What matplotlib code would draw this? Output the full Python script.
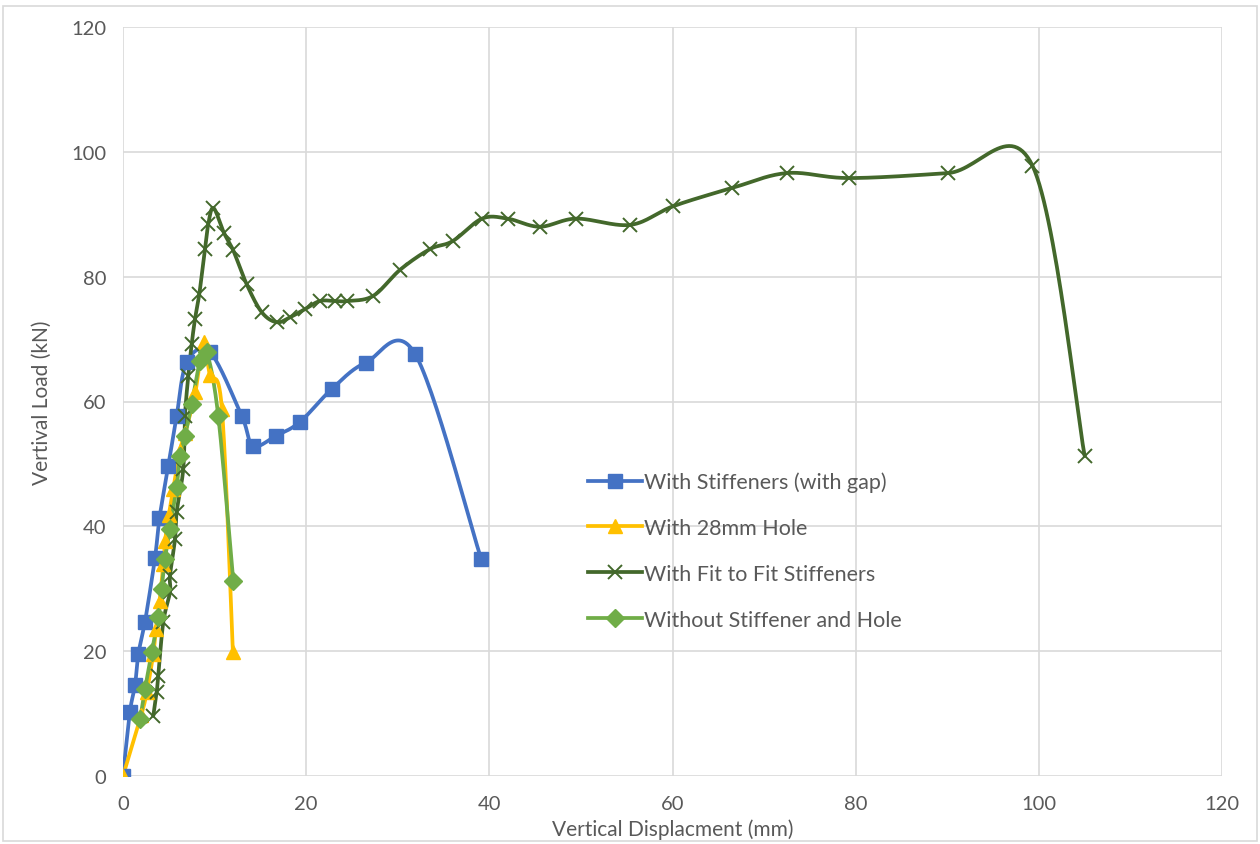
import numpy as np
import matplotlib
matplotlib.use("Agg")
import matplotlib.pyplot as plt
from matplotlib.patches import Rectangle
from matplotlib.lines import Line2D

# ---- data ----
gap_x = [0, 0.76, 1.31, 1.67, 2.40, 3.49, 3.98, 4.95, 5.86, 6.96, 9.5, 12.96, 14.2, 16.7, 19.3, 22.8, 26.5, 31.9, 39.1]
gap_y = [0, 10.3, 14.5, 19.5, 24.7, 34.9, 41.3, 49.7, 57.7, 66.3, 67.9, 57.7, 52.9, 54.5, 56.7, 62.0, 66.2, 67.6, 34.8]

hole_x = [0, 2.0, 2.6, 3.3, 3.6, 4.0, 4.4, 4.6, 5.0, 5.5, 6.2, 6.8, 7.9, 8.8, 9.5, 10.8, 12.0]
hole_y = [0, 9.8, 13.5, 19.5, 23.5, 28.0, 34.0, 37.7, 41.8, 46.0, 52.1, 55.0, 61.5, 69.6, 64.2, 58.8, 19.8]

fit_x = [3.31, 3.68, 3.85, 4.40, 5.13, 5.13, 5.68, 5.86, 6.58, 6.77, 7.13, 7.50, 7.86, 8.33, 8.95, 9.31, 9.88,
         11.03, 12.04, 13.5, 15.15, 16.78, 18.24, 19.87, 21.5, 23.15, 24.46, 27.3, 30.25, 33.5, 36.0, 39.2,
         42.0, 45.5, 49.5, 55.4, 60.1, 66.5, 72.5, 79.3, 90.1, 99.3, 105.0]
fit_y = [9.66, 13.46, 16.07, 24.67, 29.48, 32.09, 37.97, 42.29, 49.18, 57.72, 64.13, 69.2, 73.2, 77.2, 84.4, 88.4, 91.0,
         87.0, 84.2, 78.8, 74.3, 72.7, 73.5, 74.8, 76.1, 76.1, 76.1, 76.9, 81.1, 84.4, 85.7, 89.3,
         89.3, 88.0, 89.3, 88.3, 91.3, 94.2, 96.6, 95.8, 96.6, 97.8, 51.3]

plain_x = [1.86, 2.40, 3.13, 3.85, 4.22, 4.59, 5.13, 5.86, 6.22, 6.77, 7.50, 8.41, 9.14, 10.4, 12.04]
plain_y = [9.1, 13.9, 19.8, 25.4, 30.0, 34.8, 39.6, 46.3, 51.3, 54.5, 59.6, 66.5, 67.9, 57.7, 31.3]

labels = ["With Stiffeners (with gap)", "With 28mm Hole", "With Fit to Fit Stiffeners", "Without Stiffener and Hole"]
colors = ["#4472C4", "#FFC000", "#43682B", "#70AD47"]
markers = ["s", "^", "x", "D"]

x_ticks = [0, 20, 40, 60, 80, 100, 120]
y_ticks = [0, 20, 40, 60, 80, 100, 120]


def smooth(xs, ys, n=30):
    p = np.column_stack([xs, ys]).astype(float)
    if len(p) < 3:
        return p[:, 0], p[:, 1]
    ext = np.vstack([p[0], p, p[-1]])
    out = [p[0]]
    t = np.linspace(0, 1, n)[1:]
    for i in range(1, len(ext) - 2):
        p0, p1, p2, p3 = ext[i - 1], ext[i], ext[i + 1], ext[i + 2]
        c1 = p1 + (p2 - p0) / 6.0
        c2 = p2 - (p3 - p1) / 6.0
        for tt in t:
            b = ((1 - tt) ** 3) * p1 + 3 * ((1 - tt) ** 2) * tt * c1 + 3 * (1 - tt) * tt ** 2 * c2 + tt ** 3 * p2
            out.append(b)
    out = np.array(out)
    return out[:, 0], out[:, 1]


plt.rcParams['font.family'] = ['Lato', 'DejaVu Sans']
fig = plt.figure(figsize=(12.6, 8.45), dpi=100)
ax = fig.add_axes([123 / 1260, 1 - 777 / 845, (1222 - 123) / 1260, (777 - 28) / 845])

series = [(gap_x, gap_y), (hole_x, hole_y), (fit_x, fit_y), (plain_x, plain_y)]
handles = []
for (xs, ys), lab, c, m in zip(series, labels, colors, markers):
    sx, sy = smooth(xs, ys)
    ax.plot(sx, sy, color=c, lw=2.7, solid_capstyle='round', zorder=3)
    if m == "x":
        ax.plot(xs, ys, ls='none', marker=m, ms=10.5, mec=c, mew=1.4, zorder=4)
        h = Line2D([], [], color=c, lw=2.7, marker=m, ms=10.5, mew=1.4)
    else:
        ms = 10.5 if m != "D" else 9
        ax.plot(xs, ys, ls='none', marker=m, ms=ms, mfc=c, mec=c, zorder=4)
        h = Line2D([], [], color=c, lw=2.7, marker=m, ms=ms, mfc=c, mec=c)
    handles.append(h)

ax.set_xlim(0, 120)
ax.set_ylim(0, 120)
ax.set_xticks(x_ticks)
ax.set_yticks(y_ticks)
ax.grid(True, color="#D9D9D9", lw=1.2, zorder=0)
ax.set_axisbelow(True)
for s in ax.spines.values():
    s.set_visible(False)
ax.tick_params(length=0, labelsize=14.5, labelcolor="#595959")
ax.tick_params(axis='x', pad=14)
ax.tick_params(axis='y', pad=12)
ax.set_xlabel("Vertical Displacment (mm)", fontsize=15, color="#595959", va='center')
ax.set_ylabel("Vertival Load (kN)", fontsize=15, color="#595959", va='center')
ax.xaxis.set_label_coords(0.5, -(830 - 777) / 749)
ax.yaxis.set_label_coords(-(123 - 42) / 1099, 0.5)

leg = ax.legend(handles, labels, loc='upper left', bbox_to_anchor=(0.415, 0.418), frameon=False,
                fontsize=15.5, labelcolor="#595959", handlelength=2.5, handletextpad=0.1,
                labelspacing=1.2, borderaxespad=0)

fig.patches.append(Rectangle((3 / 1260, 3 / 845), 1254 / 1260, 835 / 845, transform=fig.transFigure,
                             fill=False, edgecolor="#D9D9D9", lw=1.2))

fig.savefig("out.png", dpi=100)
